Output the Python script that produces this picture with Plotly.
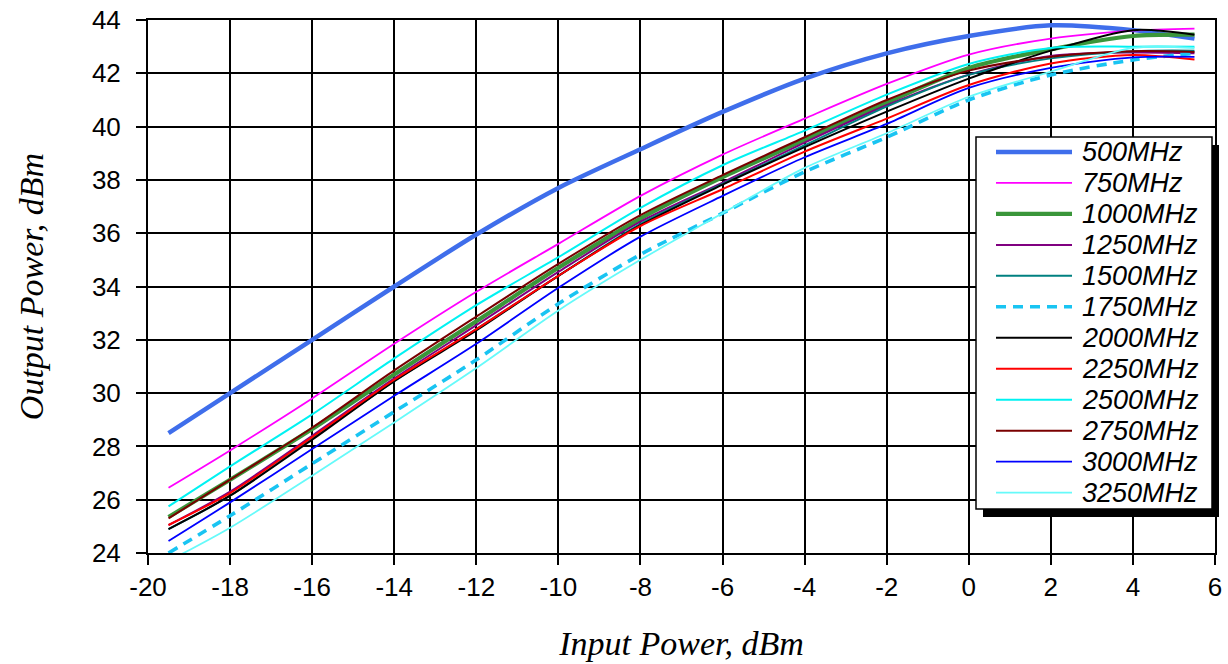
import plotly.graph_objects as go

# Input drive levels (dBm)
input_dbm = [-19.5, -18, -16, -14, -12, -10, -8, -6, -4, -2, 0, 2, 4, 5.5]

# Output power (dBm) per frequency
p_500 = [28.5, 30.0, 32.0, 34.0, 35.95, 37.7, 39.15, 40.55, 41.8, 42.75, 43.4, 43.8, 43.62, 43.3]
p_750 = [26.45, 27.85, 29.8, 31.85, 33.8, 35.6, 37.4, 38.95, 40.3, 41.6, 42.7, 43.3, 43.6, 43.68]
p_1000 = [25.35, 26.75, 28.65, 30.7, 32.7, 34.7, 36.55, 38.1, 39.5, 40.9, 42.2, 42.9, 43.4, 43.45]
p_1250 = [25.05, 26.3, 28.4, 30.55, 32.55, 34.55, 36.43, 37.9, 39.4, 40.8, 41.95, 42.65, 42.78, 42.75]
p_1500 = [24.9, 26.15, 28.3, 30.45, 32.4, 34.4, 36.35, 37.85, 39.3, 40.75, 41.94, 42.56, 42.83, 42.85]
p_1750 = [24.0, 25.4, 27.35, 29.3, 31.25, 33.35, 35.2, 36.75, 38.3, 39.6, 41.0, 41.94, 42.5, 42.75]
p_2000 = [24.9, 26.15, 28.25, 30.45, 32.35, 34.4, 36.3, 37.82, 39.23, 40.56, 41.8, 42.85, 43.62, 43.45]
p_2250 = [25.05, 26.25, 28.35, 30.5, 32.4, 34.4, 36.27, 37.65, 39.06, 40.3, 41.56, 42.37, 42.69, 42.52]
p_2500 = [25.75, 27.25, 29.2, 31.3, 33.3, 35.1, 36.95, 38.55, 39.85, 41.2, 42.35, 42.95, 43.0, 43.0]
p_2750 = [25.3, 26.75, 28.7, 30.85, 32.87, 34.85, 36.68, 38.18, 39.6, 41.0, 42.1, 42.62, 42.83, 42.8]
p_3000 = [24.45, 25.9, 27.9, 29.9, 31.85, 33.95, 35.87, 37.4, 38.85, 40.1, 41.45, 42.2, 42.6, 42.62]
p_3250 = [23.7, 24.95, 26.9, 28.9, 30.94, 33.1, 35.0, 36.75, 38.45, 39.75, 41.12, 42.06, 42.95, 42.95]

series_names = ["500MHz", "750MHz", "1000MHz", "1250MHz", "1500MHz", "1750MHz",
                "2000MHz", "2250MHz", "2500MHz", "2750MHz", "3000MHz", "3250MHz"]
series_values = [p_500, p_750, p_1000, p_1250, p_1500, p_1750,
                 p_2000, p_2250, p_2500, p_2750, p_3000, p_3250]

x_ticks = [-20, -18, -16, -14, -12, -10, -8, -6, -4, -2, 0, 2, 4, 6]
y_ticks = [24, 26, 28, 30, 32, 34, 36, 38, 40, 42, 44]

# line styling per series: (colour, width, dash)
styles = [
    ("#3F6EEB", 4.5, "solid"),
    ("#FF00FF", 1.8, "solid"),
    ("#3A963A", 4.2, "solid"),
    ("#800080", 2.0, "solid"),
    ("#008080", 2.0, "solid"),
    ("#19C4F2", 3.6, "10px,7px"),
    ("#000000", 2.0, "solid"),
    ("#FF0000", 2.0, "solid"),
    ("#00F2F2", 2.0, "solid"),
    ("#7A0000", 2.0, "solid"),
    ("#0000FF", 1.8, "solid"),
    ("#66FAFA", 1.8, "solid"),
]

W, H = 1228, 664
L, R, T, B = 148, 13, 20, 111
PW, PH = W - L - R, H - T - B


def px(xp):
    return (xp - L) / PW


def py(yp):
    return (H - B - yp) / PH


fig = go.Figure()
for name, vals, (col, wid, dash) in zip(series_names, series_values, styles):
    fig.add_trace(go.Scatter(
        x=input_dbm, y=vals, name=name, mode="lines",
        line=dict(color=col, width=wid, dash=dash, shape="spline", smoothing=0.8),
        showlegend=False,
    ))

# boxed key with drop shadow, drawn in paper space
shapes = []
bx0, bx1, by0, by1 = 976, 1212, 137, 509
shapes.append(dict(type="rect", xref="paper", yref="paper",
                   x0=px(bx0 + 7), x1=px(bx1 + 7), y0=py(by1 + 8), y1=py(by0 + 8),
                   fillcolor="black", line=dict(width=0), layer="above"))
shapes.append(dict(type="rect", xref="paper", yref="paper",
                   x0=px(bx0), x1=px(bx1), y0=py(by1), y1=py(by0),
                   fillcolor="white", line=dict(color="black", width=1.5), layer="above"))
annotations = []
row0, row_gap = 152, 30.96
for i, (name, (col, wid, dash)) in enumerate(zip(series_names, styles)):
    yy = row0 + i * row_gap
    shapes.append(dict(type="line", xref="paper", yref="paper",
                       x0=px(996), x1=px(1072), y0=py(yy), y1=py(yy),
                       line=dict(color=col, width=wid, dash=dash), layer="above"))
    annotations.append(dict(xref="paper", yref="paper", x=px(1080), y=py(yy),
                            xanchor="left", yanchor="middle", showarrow=False,
                            text="<i>%s</i>" % name,
                            font=dict(family="Liberation Sans", size=27, color="black")))

axis_common = dict(
    showgrid=True, gridcolor="black", gridwidth=2,
    showline=True, linecolor="black", linewidth=2, mirror=True,
    ticks="outside", ticklen=10, tickwidth=2, tickcolor="black",
    tickfont=dict(family="Liberation Sans", size=26, color="black"),
    zeroline=False, automargin=False,
)

fig.update_layout(
    width=W, height=H,
    margin=dict(l=L, r=R, t=T, b=B, autoexpand=False),
    paper_bgcolor="white", plot_bgcolor="white",
    showlegend=False,
    xaxis=dict(range=[-20, 6], tickvals=x_ticks, ticktext=[str(v) for v in x_ticks],
               title=dict(text="<i>Input Power, dBm</i>", standoff=30,
                          font=dict(family="Liberation Serif", size=34, color="black")),
               **axis_common),
    yaxis=dict(range=[24, 44], tickvals=y_ticks, ticktext=[str(v) for v in y_ticks],
               ticklabelstandoff=10,
               title=dict(text="<i>Output Power, dBm</i>", standoff=38,
                          font=dict(family="Liberation Serif", size=34, color="black")),
               **axis_common),
    shapes=shapes,
    annotations=annotations,
)

fig.write_html("out.html")
